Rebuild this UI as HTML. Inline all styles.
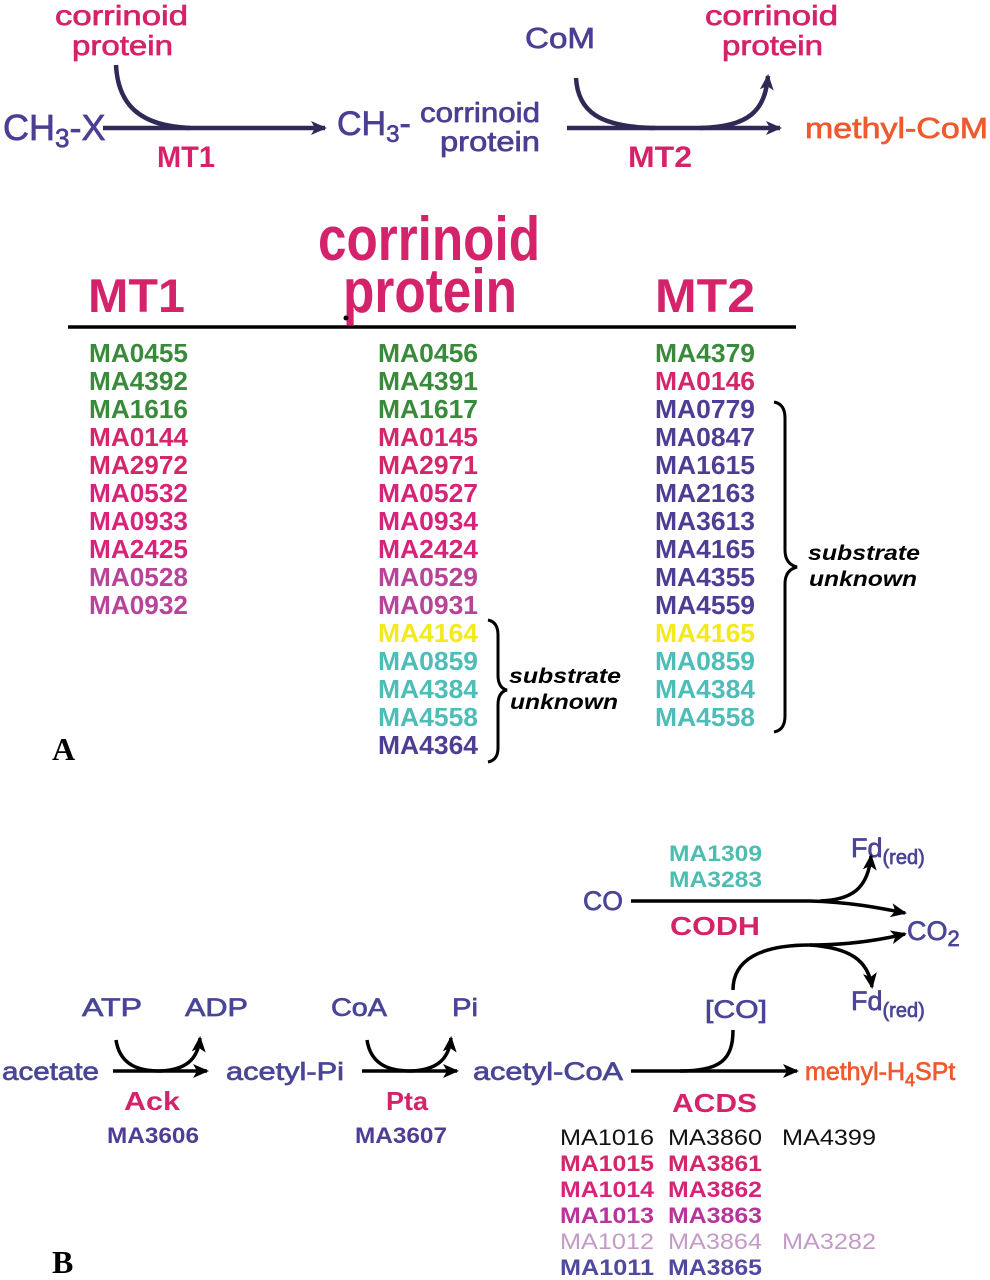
<!DOCTYPE html>
<html><head><meta charset="utf-8"><style>
html,body{margin:0;padding:0;background:#fff;}
svg{display:block;}
text{font-family:"Liberation Sans",Arial,sans-serif;}
text.serif{font-family:"Liberation Serif",serif;}
.med text{stroke-width:0.7px;}
</style></head><body>
<svg width="990" height="1280" viewBox="0 0 990 1280" xmlns="http://www.w3.org/2000/svg">
<defs>
<marker id="ah" markerWidth="16" markerHeight="14" refX="14" refY="7" orient="auto" markerUnits="userSpaceOnUse" viewBox="0 0 16 14">
<path d="M0,0 L16,7 L0,14 L4,7 Z" fill="#2e2a55"/></marker>
<marker id="ak" markerWidth="16" markerHeight="14" refX="14" refY="7" orient="auto" markerUnits="userSpaceOnUse" viewBox="0 0 16 14">
<path d="M0,0 L16,7 L0,14 L4,7 Z" fill="#000"/></marker>
</defs>

<!-- top reaction -->
<g class="med" font-size="28" fill="#d4236a" stroke="#d4236a">
<text x="55" y="25" textLength="133" lengthAdjust="spacingAndGlyphs">corrinoid</text>
<text x="72" y="55" textLength="101" lengthAdjust="spacingAndGlyphs">protein</text>
<text x="705" y="25" textLength="133" lengthAdjust="spacingAndGlyphs">corrinoid</text>
<text x="722" y="55" textLength="101" lengthAdjust="spacingAndGlyphs">protein</text>
</g>
<g font-size="30" font-weight="bold" fill="#d4236a">
<text x="157" y="167" textLength="58" lengthAdjust="spacingAndGlyphs">MT1</text>
<text x="628" y="167" textLength="64" lengthAdjust="spacingAndGlyphs">MT2</text>
</g>
<g class="med" fill="#4a3f92" stroke="#4a3f92">
<text x="3" y="140" font-size="36">CH<tspan font-size="26" dy="7">3</tspan><tspan dy="-7">-X</tspan></text>
<text x="337" y="135" font-size="34">CH<tspan font-size="24" dy="7">3</tspan><tspan dy="-7">-</tspan></text>
<text x="420" y="122" font-size="28" textLength="120" lengthAdjust="spacingAndGlyphs">corrinoid</text>
<text x="440" y="151" font-size="28" textLength="100" lengthAdjust="spacingAndGlyphs">protein</text>
<text x="525" y="48" font-size="29" textLength="70" lengthAdjust="spacingAndGlyphs">CoM</text>
</g>
<g class="med"><text x="805" y="138" font-size="29" fill="#f0582e" stroke="#f0582e" textLength="183" lengthAdjust="spacingAndGlyphs">methyl-CoM</text></g>
<g stroke="#2e2a55" stroke-width="4.5" fill="none">
<line x1="103" y1="128" x2="325" y2="128" marker-end="url(#ah)"/>
<path d="M116,65 C118,105 140,126 190,128"/>
<line x1="567" y1="128" x2="780" y2="128" marker-end="url(#ah)"/>
<path d="M576,78 C578,112 600,127 655,128"/>
<path d="M700,128 C750,127 765,110 768,76" marker-end="url(#ah)"/>
</g>

<!-- table A header -->
<g font-weight="bold" fill="#d4236a">
<text x="88" y="312" font-size="47" textLength="97" lengthAdjust="spacingAndGlyphs">MT1</text>
<text x="318" y="260" font-size="62" textLength="222" lengthAdjust="spacingAndGlyphs">corrinoid</text>
<text x="343" y="312" font-size="62" textLength="174" lengthAdjust="spacingAndGlyphs">protein</text>
<text x="655" y="312" font-size="47" textLength="100" lengthAdjust="spacingAndGlyphs">MT2</text>
</g>
<line x1="68" y1="327" x2="796" y2="327" stroke="#000" stroke-width="3.5"/>
<circle cx="346" cy="318" r="2.5" fill="#000"/>

<g font-size="26" font-weight="bold">
<g>
<text x="89" y="362" fill="#3a8a3c" textLength="99" lengthAdjust="spacingAndGlyphs">MA0455</text>
<text x="89" y="390" fill="#3a8a3c" textLength="99" lengthAdjust="spacingAndGlyphs">MA4392</text>
<text x="89" y="418" fill="#3a8a3c" textLength="99" lengthAdjust="spacingAndGlyphs">MA1616</text>
<text x="89" y="446" fill="#d4266a" textLength="99" lengthAdjust="spacingAndGlyphs">MA0144</text>
<text x="89" y="474" fill="#d4266a" textLength="99" lengthAdjust="spacingAndGlyphs">MA2972</text>
<text x="89" y="502" fill="#d8237a" textLength="99" lengthAdjust="spacingAndGlyphs">MA0532</text>
<text x="89" y="530" fill="#d8237a" textLength="99" lengthAdjust="spacingAndGlyphs">MA0933</text>
<text x="89" y="558" fill="#d8237a" textLength="99" lengthAdjust="spacingAndGlyphs">MA2425</text>
<text x="89" y="586" fill="#b8449a" textLength="99" lengthAdjust="spacingAndGlyphs">MA0528</text>
<text x="89" y="614" fill="#b8449a" textLength="99" lengthAdjust="spacingAndGlyphs">MA0932</text>
</g>
<g>
<text x="378" y="362" fill="#3a8a3c" textLength="100" lengthAdjust="spacingAndGlyphs">MA0456</text>
<text x="378" y="390" fill="#3a8a3c" textLength="100" lengthAdjust="spacingAndGlyphs">MA4391</text>
<text x="378" y="418" fill="#3a8a3c" textLength="100" lengthAdjust="spacingAndGlyphs">MA1617</text>
<text x="378" y="446" fill="#d4266a" textLength="100" lengthAdjust="spacingAndGlyphs">MA0145</text>
<text x="378" y="474" fill="#d4266a" textLength="100" lengthAdjust="spacingAndGlyphs">MA2971</text>
<text x="378" y="502" fill="#d8237a" textLength="100" lengthAdjust="spacingAndGlyphs">MA0527</text>
<text x="378" y="530" fill="#d8237a" textLength="100" lengthAdjust="spacingAndGlyphs">MA0934</text>
<text x="378" y="558" fill="#d8237a" textLength="100" lengthAdjust="spacingAndGlyphs">MA2424</text>
<text x="378" y="586" fill="#b8449a" textLength="100" lengthAdjust="spacingAndGlyphs">MA0529</text>
<text x="378" y="614" fill="#b8449a" textLength="100" lengthAdjust="spacingAndGlyphs">MA0931</text>
<text x="378" y="642" fill="#f2ea1c" textLength="100" lengthAdjust="spacingAndGlyphs">MA4164</text>
<text x="378" y="670" fill="#4dbdb8" textLength="100" lengthAdjust="spacingAndGlyphs">MA0859</text>
<text x="378" y="698" fill="#4dbdb8" textLength="100" lengthAdjust="spacingAndGlyphs">MA4384</text>
<text x="378" y="726" fill="#4dbdb8" textLength="100" lengthAdjust="spacingAndGlyphs">MA4558</text>
<text x="378" y="754" fill="#4f3c94" textLength="100" lengthAdjust="spacingAndGlyphs">MA4364</text>
</g>
<g>
<text x="655" y="362" fill="#3a8a3c" textLength="100" lengthAdjust="spacingAndGlyphs">MA4379</text>
<text x="655" y="390" fill="#d4266a" textLength="100" lengthAdjust="spacingAndGlyphs">MA0146</text>
<text x="655" y="418" fill="#4f3c94" textLength="100" lengthAdjust="spacingAndGlyphs">MA0779</text>
<text x="655" y="446" fill="#4f3c94" textLength="100" lengthAdjust="spacingAndGlyphs">MA0847</text>
<text x="655" y="474" fill="#4f3c94" textLength="100" lengthAdjust="spacingAndGlyphs">MA1615</text>
<text x="655" y="502" fill="#4f3c94" textLength="100" lengthAdjust="spacingAndGlyphs">MA2163</text>
<text x="655" y="530" fill="#4f3c94" textLength="100" lengthAdjust="spacingAndGlyphs">MA3613</text>
<text x="655" y="558" fill="#4f3c94" textLength="100" lengthAdjust="spacingAndGlyphs">MA4165</text>
<text x="655" y="586" fill="#4f3c94" textLength="100" lengthAdjust="spacingAndGlyphs">MA4355</text>
<text x="655" y="614" fill="#4f3c94" textLength="100" lengthAdjust="spacingAndGlyphs">MA4559</text>
<text x="655" y="642" fill="#f2ea1c" textLength="100" lengthAdjust="spacingAndGlyphs">MA4165</text>
<text x="655" y="670" fill="#4dbdb8" textLength="100" lengthAdjust="spacingAndGlyphs">MA0859</text>
<text x="655" y="698" fill="#4dbdb8" textLength="100" lengthAdjust="spacingAndGlyphs">MA4384</text>
<text x="655" y="726" fill="#4dbdb8" textLength="100" lengthAdjust="spacingAndGlyphs">MA4558</text>
</g>
</g>

<!-- braces -->
<g stroke="#000" stroke-width="3" fill="none">
<path d="M488,620 Q498,622 498,635 L498,675 Q498,688 507,690 Q498,692 498,705 L498,748 Q498,760 488,762"/>
<path d="M774,402 Q785,404 785,418 L785,550 Q785,564 797,567 Q785,570 785,584 L785,716 Q785,730 774,732"/>
</g>
<g font-size="21" font-weight="bold" font-style="italic" fill="#000">
<text x="509" y="683" textLength="112" lengthAdjust="spacingAndGlyphs">substrate</text>
<text x="510" y="709" textLength="108" lengthAdjust="spacingAndGlyphs">unknown</text>
<text x="808" y="560" textLength="112" lengthAdjust="spacingAndGlyphs">substrate</text>
<text x="809" y="586" textLength="108" lengthAdjust="spacingAndGlyphs">unknown</text>
</g>
<text class="serif" x="52" y="760" font-size="32" font-weight="bold">A</text>
<text class="serif" x="52" y="1273" font-size="32" font-weight="bold">B</text>

<!-- Part B -->
<g class="med" fill="#4a4596" stroke="#4a4596" font-size="25">
<text x="82" y="1016" textLength="60" lengthAdjust="spacingAndGlyphs">ATP</text>
<text x="185" y="1016" textLength="63" lengthAdjust="spacingAndGlyphs">ADP</text>
<text x="2" y="1080" textLength="97" lengthAdjust="spacingAndGlyphs">acetate</text>
<text x="226" y="1080" textLength="118" lengthAdjust="spacingAndGlyphs">acetyl-Pi</text>
<text x="331" y="1016" textLength="56" lengthAdjust="spacingAndGlyphs">CoA</text>
<text x="452" y="1016" textLength="26" lengthAdjust="spacingAndGlyphs">Pi</text>
<text x="473" y="1080" textLength="150" lengthAdjust="spacingAndGlyphs">acetyl-CoA</text>
<text x="583" y="910" font-size="27" textLength="40" lengthAdjust="spacingAndGlyphs">CO</text>
<text x="705" y="1018" textLength="62" lengthAdjust="spacingAndGlyphs">[CO]</text>
<text x="907" y="940" font-size="27">CO<tspan font-size="22" dy="6">2</tspan></text>
<text x="851" y="857" font-size="27">Fd<tspan font-size="20" dy="7">(red)</tspan></text>
<text x="851" y="1010" font-size="27">Fd<tspan font-size="20" dy="7">(red)</tspan></text>
</g>
<g class="med"><text x="805" y="1080" font-size="25" fill="#f0582e" stroke="#f0582e">methyl-H<tspan font-size="18" dy="6">4</tspan><tspan dy="-6">SPt</tspan></text></g>
<g fill="#d4236a" font-size="26" font-weight="bold">
<text x="124" y="1110" textLength="56" lengthAdjust="spacingAndGlyphs">Ack</text>
<text x="386" y="1110" textLength="42" lengthAdjust="spacingAndGlyphs">Pta</text>
<text x="670" y="935" textLength="90" lengthAdjust="spacingAndGlyphs">CODH</text>
<text x="672" y="1112" textLength="85" lengthAdjust="spacingAndGlyphs">ACDS</text>
</g>
<g font-size="22" font-weight="bold" fill="#4dbdb0">
<text x="669" y="861" textLength="93" lengthAdjust="spacingAndGlyphs">MA1309</text>
<text x="669" y="887" textLength="93" lengthAdjust="spacingAndGlyphs">MA3283</text>
</g>
<g font-size="22" font-weight="bold" fill="#4f3c94">
<text x="107" y="1143" textLength="92" lengthAdjust="spacingAndGlyphs">MA3606</text>
<text x="355" y="1143" textLength="92" lengthAdjust="spacingAndGlyphs">MA3607</text>
</g>
<g font-size="22">
<text x="560" y="1145" fill="#111" textLength="94" lengthAdjust="spacingAndGlyphs">MA1016</text>
<text x="668" y="1145" fill="#111" textLength="94" lengthAdjust="spacingAndGlyphs">MA3860</text>
<text x="782" y="1145" fill="#111" textLength="94" lengthAdjust="spacingAndGlyphs">MA4399</text>
<g font-weight="bold">
<text x="560" y="1171" fill="#d4266a" textLength="94" lengthAdjust="spacingAndGlyphs">MA1015</text>
<text x="668" y="1171" fill="#d4266a" textLength="94" lengthAdjust="spacingAndGlyphs">MA3861</text>
<text x="560" y="1197" fill="#d8237a" textLength="94" lengthAdjust="spacingAndGlyphs">MA1014</text>
<text x="668" y="1197" fill="#d8237a" textLength="94" lengthAdjust="spacingAndGlyphs">MA3862</text>
<text x="560" y="1223" fill="#b8349a" textLength="94" lengthAdjust="spacingAndGlyphs">MA1013</text>
<text x="668" y="1223" fill="#b8349a" textLength="94" lengthAdjust="spacingAndGlyphs">MA3863</text>
<text x="560" y="1275" fill="#4f4aa0" textLength="94" lengthAdjust="spacingAndGlyphs">MA1011</text>
<text x="668" y="1275" fill="#4f4aa0" textLength="94" lengthAdjust="spacingAndGlyphs">MA3865</text>
</g>
<text x="560" y="1249" fill="#c49ac6" textLength="94" lengthAdjust="spacingAndGlyphs">MA1012</text>
<text x="668" y="1249" fill="#c49ac6" textLength="94" lengthAdjust="spacingAndGlyphs">MA3864</text>
<text x="782" y="1249" fill="#c49ac6" textLength="94" lengthAdjust="spacingAndGlyphs">MA3282</text>
</g>

<g stroke="#000" stroke-width="3.5" fill="none">
<line x1="113" y1="1071" x2="207" y2="1071" marker-end="url(#ak)"/>
<path d="M116,1040 C120,1066 140,1071 160,1071 C185,1070 198,1060 200,1038" marker-end="url(#ak)"/>
<line x1="362" y1="1071" x2="457" y2="1071" marker-end="url(#ak)"/>
<path d="M367,1040 C371,1066 391,1071 411,1071 C436,1070 449,1060 451,1038" marker-end="url(#ak)"/>
<line x1="631" y1="1071" x2="797" y2="1071" marker-end="url(#ak)"/>
<path d="M733,1030 C733,1060 720,1071 680,1071"/>
<line x1="631" y1="901" x2="810" y2="901"/>
<path d="M810,901 C850,902 880,908 905,913" marker-end="url(#ak)"/>
<path d="M820,901 C850,900 868,890 871,856" marker-end="url(#ak)"/>
<path d="M733,990 C733,960 760,945 810,945 C850,945 880,940 905,934" marker-end="url(#ak)"/>
<path d="M810,945 C850,948 868,960 872,987" marker-end="url(#ak)"/>
</g>
</svg>
</body></html>
